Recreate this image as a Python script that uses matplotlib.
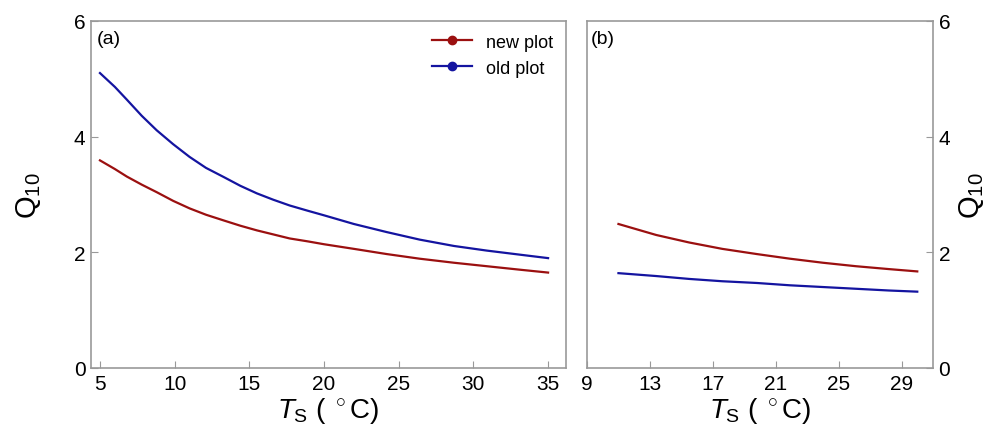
import matplotlib
matplotlib.use("Agg")
import matplotlib.pyplot as plt

plt.rcParams['font.family'] = ['Liberation Sans', 'DejaVu Sans']
plt.rcParams['mathtext.fontset'] = 'custom'
plt.rcParams['mathtext.it'] = 'Liberation Sans:italic'
plt.rcParams['mathtext.rm'] = 'Liberation Sans'

# Panel (a)
ts_a = [5, 6.0, 6.8, 7.8, 8.8, 9.9, 11.0, 12.1, 13.3, 14.4, 15.5, 16.6, 17.7, 18.9,
        20.0, 22.0, 24.2, 26.4, 28.7, 30.9, 33.1, 35]
new_a = [3.59, 3.44, 3.31, 3.17, 3.04, 2.89, 2.76, 2.65, 2.55, 2.46, 2.38, 2.31, 2.24, 2.19,
         2.14, 2.06, 1.97, 1.89, 1.82, 1.76, 1.70, 1.65]
old_a = [5.10, 4.86, 4.64, 4.36, 4.11, 3.87, 3.65, 3.46, 3.30, 3.15, 3.02, 2.91, 2.81, 2.72,
         2.64, 2.49, 2.35, 2.22, 2.11, 2.03, 1.96, 1.90]

# Panel (b)
ts_b = [11, 13.4, 15.5, 17.6, 19.8, 21.9, 24.0, 26.1, 28.2, 30]
new_b = [2.49, 2.30, 2.17, 2.06, 1.97, 1.89, 1.82, 1.76, 1.71, 1.67]
old_b = [1.64, 1.59, 1.54, 1.50, 1.47, 1.43, 1.40, 1.37, 1.34, 1.32]

xticks_a = [5, 10, 15, 20, 25, 30, 35]
xticks_b = [9, 13, 17, 21, 25, 29]
yticks = [0, 2, 4, 6]

red = '#9B1010'
blue = '#1414A0'
spine_c = '#999999'

fig = plt.figure(figsize=(9.92, 4.35), dpi=100)
ax1 = fig.add_axes([91/992, 1-369/435, (566-91)/992, (369-22)/435])
ax2 = fig.add_axes([587/992, 1-369/435, (933-587)/992, (369-22)/435])

ax1.plot(ts_a, new_a, color=red, lw=1.6, label='new plot')
ax1.plot(ts_a, old_a, color=blue, lw=1.6, label='old plot')
ax2.plot(ts_b, new_b, color=red, lw=1.6)
ax2.plot(ts_b, old_b, color=blue, lw=1.6)

ax1.set_xlim(4.4, 36.2)
ax2.set_xlim(9, 31)
for ax, xt in ((ax1, xticks_a), (ax2, xticks_b)):
    ax.set_ylim(0, 6)
    ax.set_xticks(xt)
    ax.set_yticks(yticks)
    ax.tick_params(direction='in', length=5, width=0.8, color=spine_c, labelsize=15, pad=4)
    for s in ax.spines.values():
        s.set_color(spine_c)
        s.set_linewidth(1.2)
    ax.set_xlabel(r'$T_{\mathrm{S}}$ ( $^\circ$C)', fontsize=20, labelpad=2)

ax1.set_ylabel(r'Q$_{10}$', fontsize=21, labelpad=22)
ax2.yaxis.tick_right()
ax2.yaxis.set_label_position('right')
ax2.set_ylabel(r'Q$_{10}$', fontsize=21, labelpad=5, rotation=90)

ax1.text(0.012, 0.975, '(a)', transform=ax1.transAxes, fontsize=14, va='top', ha='left')
ax2.text(0.012, 0.975, '(b)', transform=ax2.transAxes, fontsize=14, va='top', ha='left')

leg = ax1.legend(loc='upper right', frameon=False, fontsize=13, handlelength=2.2,
                 handletextpad=0.8, borderaxespad=0.3, labelspacing=0.5, numpoints=1)
for h in leg.legend_handles:
    h.set_marker('o')
    h.set_markersize(6)

fig.savefig('out.png', dpi=100)
